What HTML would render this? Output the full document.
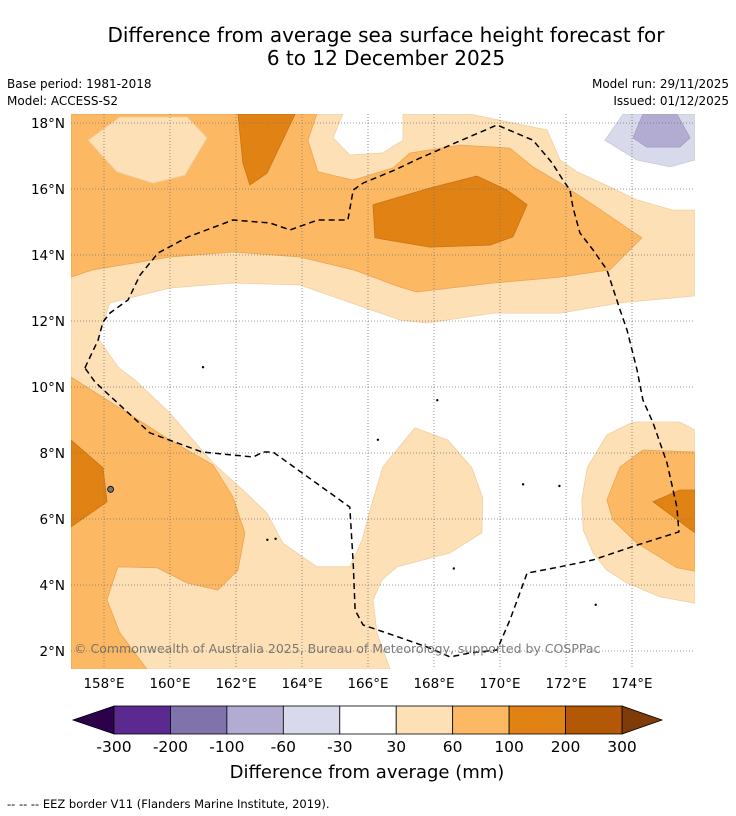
<!DOCTYPE html>
<html><head><meta charset="utf-8">
<style>
html,body{margin:0;padding:0;background:#fff;width:736px;height:816px;overflow:hidden}
svg{display:block;font-family:"DejaVu Sans","Liberation Sans",sans-serif}
</style></head>
<body>
<svg id="chart" width="736" height="816" viewBox="0 0 736 816" xmlns="http://www.w3.org/2000/svg">
<text x="386" y="42" font-size="20" text-anchor="middle" fill="#000">Difference from average sea surface height forecast for</text>
<text x="386" y="65" font-size="20" text-anchor="middle" fill="#000">6 to 12 December 2025</text>
<text x="7" y="88" font-size="12">Base period: 1981-2018</text>
<text x="7" y="105" font-size="12">Model: ACCESS-S2</text>
<text x="729" y="88" font-size="12" text-anchor="end">Model run: 29/11/2025</text>
<text x="729" y="105" font-size="12" text-anchor="end">Issued: 01/12/2025</text>
<defs><clipPath id="mapclip"><rect x="71" y="114" width="624" height="555"/></clipPath></defs>
<g id="map" clip-path="url(#mapclip)"></g>
<g id="axes"></g>
<g id="cbar"></g>
<text x="367" y="778" font-size="18" text-anchor="middle">Difference from average (mm)</text>
<text x="7" y="808" font-size="11.5">--  --  -- EEZ border V11 (Flanders Marine Institute, 2019).</text>
</svg>
<script>
// ---- data ----
const lonTicks = [158,160,162,164,166,168,170,172,174];
const latTicks = [2,4,6,8,10,12,14,16,18];
const levels = [-300,-200,-100,-60,-30,30,60,100,200,300];
const levelColors = ["#5b2a8e","#8073ac","#b2abd2","#d8daeb","#ffffff","#fee0b6","#fdb863","#e08214","#b35806"];
const lightMain = [[157,18.27],[165.24,18.27],[164.94,17.55],[165.45,17.03],[166.45,17.09],[167.06,17.48],[167.06,18.27],[169.09,18.27],[171.42,17.79],[171.82,16.88],[172.33,16.52],[173.33,16.06],[174.15,15.67],[175.24,15.36],[175.91,15.36],[175.91,12.76],[173.64,12.55],[171.82,12.24],[169.79,12.24],[167.79,11.94],[166.97,12.03],[163.94,13.09],[161.91,13.15],[160,13.0],[158.18,12.55],[157.82,11.48],[158.42,10.61],[158.94,10.21],[160,9.21],[161.30,7.70],[162.21,6.88],[162.94,6.18],[163.42,5.27],[164.45,4.55],[165.45,4.55],[165.82,5.36],[166.06,6.27],[166.45,7.58],[167.42,8.76],[168.42,8.39],[169.15,7.55],[169.48,6.64],[169.45,5.58],[168.48,4.97],[166.88,4.55],[166.42,4.15],[166.15,3.55],[166.27,2.55],[166.67,1.45],[157,1.45]];
const lightRight = [[174.03,8.94],[175.45,8.94],[175.91,8.70],[175.91,3.45],[174.85,3.64],[173.85,4.06],[173.24,4.45],[172.82,4.97],[172.52,5.67],[172.48,6.58],[172.64,7.55],[173.24,8.55]];
const orangeTop = [[157,18.27],[164.45,18.27],[164.18,17.48],[164.48,16.52],[165.55,16.27],[166.76,16.64],[167.27,17.09],[168.79,17.33],[170.30,17.24],[171.0,16.67],[171.82,16.18],[172.82,15.52],[174.30,14.52],[173.33,13.55],[171.82,13.33],[169.79,13.15],[167.48,12.88],[166.97,13.03],[165.55,13.55],[163.94,13.94],[161.91,14.09],[160,13.94],[157.67,13.55],[157,13.33]];
const palePatch = [[157.52,17.48],[158.48,18.18],[160.52,18.18],[161.12,17.55],[160.45,16.42],[159.48,16.18],[158.39,16.52]];
const darkTop = [[162.06,18.27],[163.79,18.27],[162.94,16.48],[162.42,16.12],[162.21,16.79]];
const darkCenter = [[166.15,15.52],[167.88,16.03],[169.30,16.39],[170.21,15.97],[170.82,15.52],[170.39,14.55],[169.70,14.30],[167.88,14.24],[166.21,14.52]];
const orangeLeft = [[157,10.30],[158.58,9.30],[160,8.39],[161.30,7.64],[161.91,6.67],[162.27,5.58],[162.06,4.45],[161.45,3.85],[160.52,4.06],[159.61,4.52],[158.42,4.55],[158.09,3.55],[158.48,2.55],[159.30,1.45],[157,1.45]];
const darkLeft = [[157,8.39],[157.97,7.55],[158.09,6.52],[157,5.76]];
const orangeRight = [[173.64,7.58],[174.33,8.09],[175.91,8.03],[175.91,4.42],[175.36,4.52],[174.15,5.27],[173.42,5.97],[173.24,6.58]];
const darkRight = [[174.64,6.52],[175.45,6.88],[175.91,6.88],[175.91,5.58]];
const purpleLight = [[173.73,18.27],[175.91,18.27],[175.91,16.88],[175.15,16.67],[174.15,16.88],[173.18,17.48]];
const purpleMid = [[174.33,18.27],[175.36,18.27],[175.76,17.55],[175.45,17.27],[174.45,17.27],[174.03,17.55]];
const eezBorder = [[157.42,10.58],[157.82,11.42],[157.97,11.97],[158.18,12.24],[158.73,12.64],[159.09,13.39],[159.64,14.06],[160.55,14.55],[161.91,15.06],[163.03,14.97],[163.64,14.76],[164.48,15.06],[165.39,15.06],[165.55,15.97],[165.85,16.18],[166.82,16.58],[167.58,16.94],[169.91,17.94],[171.0,17.48],[171.58,16.79],[171.91,16.27],[172.12,15.97],[172.21,15.45],[172.42,14.67],[172.82,14.15],[173.24,13.55],[173.64,12.33],[173.85,11.73],[174.15,10.52],[174.33,9.61],[174.64,8.91],[175.06,7.70],[175.36,6.36],[175.42,5.61],[174.15,5.21],[172.82,4.76],[171.82,4.55],[170.82,4.36],[170.30,2.94],[169.91,2.03],[169.09,1.94],[168.48,1.82],[167.79,2.12],[166.76,2.48],[165.85,2.79],[165.61,3.24],[165.55,4.67],[165.45,6.36],[163.12,8.03],[162.82,8.03],[162.52,7.88],[160.97,8.03],[159.39,8.61],[157.73,10.15],[157.42,10.58]];
const islands = [[158.2,6.9],[162.95,5.37],[168.1,9.6],[161.0,10.6],[166.3,8.4],[170.7,7.05],[171.8,7.0],[172.9,3.4],[168.6,4.5],[163.2,5.4]];

// ---- axes ----
const NS="http://www.w3.org/2000/svg";
const X0=71,X1=695,Y0=114,Y1=669;
const lon0=157, lat0=18, scale=33;
const xOf = lon => 71 + (lon-lon0)*scale + 0;
const yOf = lat => 123 + (lat0-lat)*scale;
function el(tag,attrs,parent){const e=document.createElementNS(NS,tag);for(const k in attrs)e.setAttribute(k,attrs[k]);parent.appendChild(e);return e;}
const map=document.getElementById('map');
const axes=document.getElementById('axes');
const cbar=document.getElementById('cbar');
const ptsStr = arr => arr.map(p=>xOf(p[0]).toFixed(1)+','+yOf(p[1]).toFixed(1)).join(' ');

let bg=el('rect',{x:X0,y:Y0,width:X1-X0,height:Y1-Y0,fill:'#ffffff'},map);



const regions=[
 ['contour-30-60-main',lightMain,5],
 ['contour-30-60-east',lightRight,5],
 ['contour-60-100-north',orangeTop,6],
 ['contour-30-60-north-patch',palePatch,5],
 ['contour-100-200-north',darkTop,7],
 ['contour-100-200-center',darkCenter,7],
 ['contour-60-100-west',orangeLeft,6],
 ['contour-100-200-west',darkLeft,7],
 ['contour-60-100-east',orangeRight,6],
 ['contour-100-200-east',darkRight,7],
 ['contour-neg60-neg30',purpleLight,3],
 ['contour-neg100-neg60',purpleMid,2]
];
const strokeCols={5:'#f0cfa0',6:'#eaa552',7:'#c97413',3:'#c8c9dd',2:'#a39cc4'};
regions.forEach(r=>{
  const p=el('polygon',{points:ptsStr(r[1]),fill:levelColors[r[2]],stroke:strokeCols[r[2]],'stroke-width':0.8},map);
  
  
});
islands.forEach(c=>{
  const d=el('circle',{cx:xOf(c[0]),cy:yOf(c[1]),r:1.2,fill:'#000'},map);
  
  
});
let isl=el('circle',{cx:xOf(158.2),cy:yOf(6.9),r:3,fill:'#777',stroke:'#000','stroke-width':0.8},map);



lonTicks.forEach(v=>{
  const l=el('line',{x1:xOf(v),x2:xOf(v),y1:Y0,y2:Y1,stroke:'#777','stroke-width':0.8,'stroke-dasharray':'1,2'},map);
  
  
  const t=el('text',{x:xOf(v),y:688,'font-size':13.5,'text-anchor':'middle'},axes);
  t.textContent=v+'°E';
  
  
});
latTicks.forEach(v=>{
  const l=el('line',{x1:X0,x2:X1,y1:yOf(v),y2:yOf(v),stroke:'#777','stroke-width':0.8,'stroke-dasharray':'1,2'},map);
  
  
  const t=el('text',{x:65,y:yOf(v)+5,'font-size':13.5,'text-anchor':'end'},axes);
  t.textContent=v+'°N';
  
  
});
const eez=el('polyline',{points:ptsStr(eezBorder),fill:'none',stroke:'#000','stroke-width':1.5,'stroke-dasharray':'6,4'},map);


const cr=el('text',{x:74,y:653,'font-size':12.5,fill:'#666','fill-opacity':0.85},map);
cr.textContent='© Commonwealth of Australia 2025, Bureau of Meteorology, supported by COSPPac';



// colorbar
const cbX0=114,cbX1=622,cbY=706,cbH=28;
const bw=(cbX1-cbX0)/(levels.length-1);
const cbx = i => cbX0 + i*bw;
let lt=el('polygon',{points:`73,${cbY+cbH/2} ${cbX0},${cbY} ${cbX0},${cbY+cbH}`,fill:'#2d004b',stroke:'#000','stroke-width':0.8},cbar);


let rt=el('polygon',{points:`662,${cbY+cbH/2} ${cbX1},${cbY} ${cbX1},${cbY+cbH}`,fill:'#7f3b08',stroke:'#000','stroke-width':0.8},cbar);


levelColors.forEach((c,i)=>{
  const r=el('rect',{x:cbx(i),y:cbY,width:bw,height:cbH,fill:c,stroke:'#000','stroke-width':0.8},cbar);
  
  
});
levels.forEach((v,i)=>{
  const t=el('text',{x:cbx(i),y:752,'font-size':15.5,'text-anchor':'middle'},cbar);
  t.textContent=v;
  
  
});
</script>
</body></html>
